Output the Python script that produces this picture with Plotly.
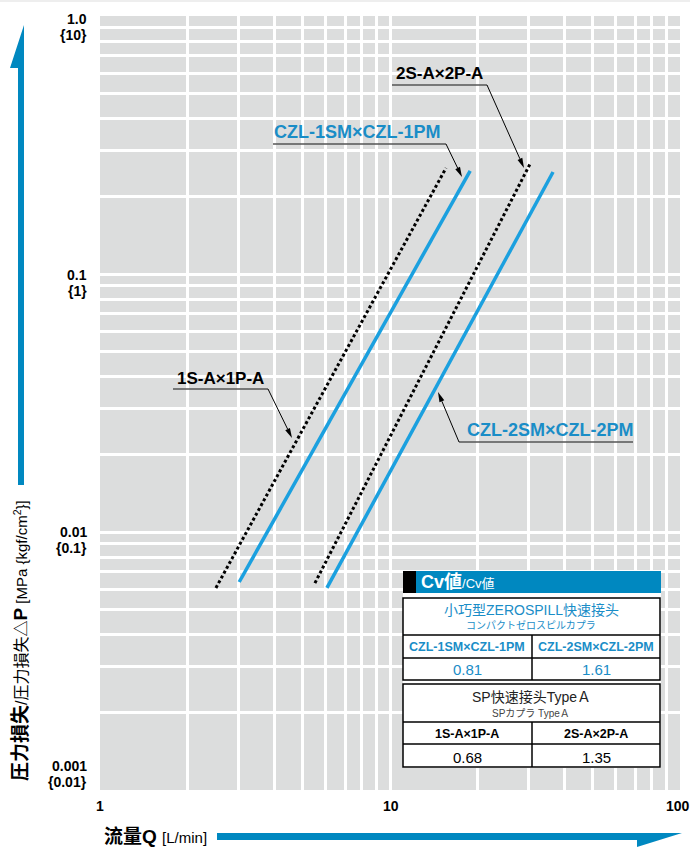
import math
import plotly.graph_objects as go

# ---------------- data ----------------
flow_czl1 = [3.02, 18.9]          # CZL-1SM x CZL-1PM  [L/min]
dp_czl1 = [0.0064, 0.251]          # [MPa]
flow_czl2 = [6.06, 36.5]          # CZL-2SM x CZL-2PM
dp_czl2 = [0.00607, 0.2485]
flow_1s = [2.51, 15.6]            # 1S-A x 1P-A
dp_1s = [0.00607, 0.2575]
flow_2s = [5.51, 30.5]            # 2S-A x 2P-A
dp_2s = [0.00634, 0.269]

x_grid = [2, 3, 4, 5, 6, 7, 8, 9, 10, 20, 30, 40, 50, 60, 70, 80, 90]
y_grid = [0.002, 0.003, 0.004, 0.005, 0.006, 0.007, 0.008, 0.009, 0.01,
          0.02, 0.03, 0.04, 0.05, 0.06, 0.07, 0.08, 0.09, 0.1,
          0.2, 0.3, 0.4, 0.5, 0.6, 0.7, 0.8, 0.9]
x_tick_vals = [1, 10, 100]
x_tick_text = ["1", "10", "100"]
y_tick_vals = [1.0, 0.1, 0.01, 0.001]
y_tick_main = ["1.0", "0.1", "0.01", "0.001"]
y_tick_sub = ["{10}", "{1}", "{0.1}", "{0.01}"]

cv_czl_names = ["CZL-1SM×CZL-1PM", "CZL-2SM×CZL-2PM"]
cv_czl_values = ["0.81", "1.61"]
cv_sp_names = ["1S-A×1P-A", "2S-A×2P-A"]
cv_sp_values = ["0.68", "1.35"]

# ---------------- styling ----------------
W, H = 690, 848
L, R, T, B = 100, 10, 16, 58
PW, PH = W - L - R, H - T - B
BLUE_LINE = "#1BA0DF"
BLUE_DARK = "#0088C0"
BLUE_TEXT = "#1A8DC7"
FONT = "Liberation Sans, Arial, Noto Sans CJK SC, sans-serif"
FONT_JP = "Liberation Sans, Arial, Noto Sans CJK JP, sans-serif"


def fx(px):
    return (px - L) / PW


def fy(py):
    return (H - B - py) / PH


fig = go.Figure()
fig.add_trace(go.Scatter(x=flow_1s, y=dp_1s, mode="lines",
                         line=dict(color="black", width=3, dash="3px,2.5px"),
                         showlegend=False, hoverinfo="skip"))
fig.add_trace(go.Scatter(x=flow_2s, y=dp_2s, mode="lines",
                         line=dict(color="black", width=3, dash="3px,2.5px"),
                         showlegend=False, hoverinfo="skip"))
fig.add_trace(go.Scatter(x=flow_czl1, y=dp_czl1, mode="lines",
                         line=dict(color=BLUE_LINE, width=3.5),
                         showlegend=False, hoverinfo="skip"))
fig.add_trace(go.Scatter(x=flow_czl2, y=dp_czl2, mode="lines",
                         line=dict(color=BLUE_LINE, width=3.5),
                         showlegend=False, hoverinfo="skip"))

shapes = []
annotations = []


def rect(x0, y0, x1, y1, fill, line_color=None, lw=0):
    shapes.append(dict(type="rect", xref="paper", yref="paper",
                       x0=fx(x0), x1=fx(x1), y0=fy(y1), y1=fy(y0),
                       fillcolor=fill,
                       line=dict(color=line_color or fill, width=lw)))


def seg(x0, y0, x1, y1, color, lw):
    shapes.append(dict(type="line", xref="paper", yref="paper",
                       x0=fx(x0), x1=fx(x1), y0=fy(y0), y1=fy(y1),
                       line=dict(color=color, width=lw)))


def hline(x0, x1, y, color, lw):
    seg(x0, y, x1, y, color, lw)


def vline(x, y0, y1, color, lw):
    seg(x, y0, x, y1, color, lw)


def poly(points, color):
    path = "M " + " L ".join(f"{fx(a):.5f},{fy(b):.5f}" for a, b in points) + " Z"
    shapes.append(dict(type="path", xref="paper", yref="paper", path=path,
                       fillcolor=color, line=dict(width=0)))


def text(x, y, s, size, color="black", bold=False, anchor="center", font=FONT, angle=0):
    if bold:
        s = f"<b>{s}</b>"
    annotations.append(dict(xref="paper", yref="paper", x=fx(x), y=fy(y), text=s,
                            showarrow=False, xanchor=anchor, yanchor="middle",
                            textangle=angle,
                            font=dict(size=size, color=color, family=font)))


def arrow(tx, ty, hx, hy, length=10, half=2.6):
    dx, dy = hx - tx, hy - ty
    d = math.hypot(dx, dy)
    ux, uy = dx / d, dy / d
    bx, by = hx - ux * length, hy - uy * length
    seg(tx, ty, bx, by, "black", 1)
    poly([(hx, hy), (bx - uy * half, by + ux * half), (bx + uy * half, by - ux * half)],
         "black")


# faint top rule
hline(0, W, 1, "#EEEEEE", 2)

# axis arrows
poly([(217, 833), (682, 833), (637, 847), (637, 840), (217, 840)], BLUE_DARK)
poly([(24, 25), (24, 485), (18, 485), (18, 68), (10, 68)], BLUE_DARK)

# series labels with leader lines
text(439, 74, "2S-A×2P-A", 17, "black", True)
hline(392, 487, 85, "#555555", 1.5)
arrow(487, 85, 524, 168)

text(357, 132, "CZL-1SM×CZL-1PM", 18, BLUE_TEXT, True)
hline(273, 446, 144, "#555555", 1.5)
arrow(446, 144, 462, 177)

text(220, 379, "1S-A×1P-A", 17, "black", True)
hline(173, 268, 389, "#555555", 1.5)
arrow(268, 389, 292, 438)

text(550, 430, "CZL-2SM×CZL-2PM", 18, BLUE_TEXT, True)
hline(459, 633, 442, "#555555", 1.5)
arrow(459, 442, 438, 392)

# ---------------- Cv table ----------------
rect(403, 571, 661, 768, "white")
rect(403, 571, 661, 593, BLUE_DARK)
rect(403, 571, 416, 593, "black")
text(419, 582, "<b>Cv値</b><span style='font-size:13px'>/Cv値</span>", 18, "white",
     False, "left")

rect(403, 598, 660, 680, "white", "black", 1.5)
hline(403, 660, 635, "black", 1.5)
hline(403, 660, 658, "black", 1.5)
vline(532, 635, 680, "black", 1.5)
text(531, 610, "小巧型ZEROSPILL快速接头", 14, BLUE_TEXT, font=FONT)
text(531, 625, "コンパクトゼロスピルカプラ", 10, BLUE_TEXT, font=FONT_JP)
for cx, nm, vv in zip([467, 596], cv_czl_names, cv_czl_values):
    text(cx, 647, nm, 12.5, BLUE_TEXT, True)
    text(cx, 669, vv, 15, BLUE_TEXT)

rect(403, 684, 660, 767, "white", "black", 1.5)
hline(403, 660, 722, "black", 1.5)
hline(403, 660, 744, "black", 1.5)
vline(532, 722, 767, "black", 1.5)
text(531, 697, "SP快速接头TypeＡ", 14, "#222222", font=FONT)
text(531, 713, "SPカプラ TypeＡ", 10, "#444444", font=FONT_JP)
for cx, nm, vv in zip([467, 596], cv_sp_names, cv_sp_values):
    text(cx, 734, nm, 12.5, "black", True)
    text(cx, 757, vv, 15, "black")

# ---------------- tick labels ----------------
y_shift_main = [-3, -1, 0, 24]
for v, m, s, sh in zip(y_tick_vals, y_tick_main, y_tick_sub, y_shift_main):
    for lab, extra in ((m, 0), (s, -16)):
        annotations.append(dict(xref="paper", yref="y", x=0, y=math.log10(v),
                                xshift=-11, yshift=sh + extra, text=f"<b>{lab}</b>",
                                showarrow=False, xanchor="right", yanchor="middle",
                                font=dict(size=14, color="black", family=FONT)))
x_shift = [0, 1, -2]
for v, lab, sh in zip(x_tick_vals, x_tick_text, x_shift):
    annotations.append(dict(xref="x", yref="paper", x=math.log10(v), y=0,
                            xshift=sh, yshift=-16, text=f"<b>{lab}</b>",
                            showarrow=False, xanchor="center", yanchor="middle",
                            font=dict(size=14, color="black", family=FONT)))

# axis titles
text(102, 836, "<b>流量Q</b> <span style='font-size:15px'>[L/min]</span>", 19,
     "black", False, "left")
text(20, 641,
     "<b>圧力損失</b><span style='font-size:16px'>/圧力損失△</span><b>P</b>"
     "<span style='font-size:15px'> [MPa {kgf/cm<sup>2</sup>}]</span>",
     19, "black", False, "center", angle=-90)

fig.update_layout(
    width=W, height=H, autosize=False,
    margin=dict(l=L, r=R, t=T, b=B, pad=0),
    paper_bgcolor="white", plot_bgcolor="#DCDDDD",
    xaxis=dict(type="log", range=[0, 2], tickvals=x_grid, showticklabels=False,
               showgrid=True, gridcolor="white", gridwidth=3, zeroline=False,
               showline=False, ticks="", fixedrange=True),
    yaxis=dict(type="log", range=[-3, 0], tickvals=y_grid, showticklabels=False,
               showgrid=True, gridcolor="white", gridwidth=3, zeroline=False,
               showline=False, ticks="", fixedrange=True),
    shapes=shapes, annotations=annotations,
    font=dict(family=FONT),
)

fig.write_html("out.html", config={"displayModeBar": False},
               post_script="document.body.style.margin='0';")
